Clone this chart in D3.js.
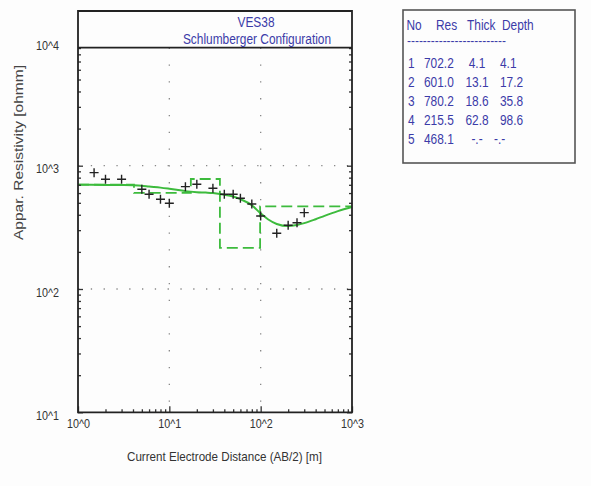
<!DOCTYPE html>
<html>
<head>
<meta charset="utf-8">
<script src="https://cdn.jsdelivr.net/npm/d3@7"></script>
<style>
  html, body { margin: 0; padding: 0; background: #fdfdfd; }
  svg { display: block; font-family: 'Liberation Sans', Arial, sans-serif; }
</style>
</head>
<body>
<svg id="chart" width="591" height="486"></svg>
<script>
(function () {
  'use strict';

  // ---- Data ----
  // measured sounding (AB/2 in m, apparent resistivity in ohmm)
  const abDist = [1.5, 2, 3, 5, 6, 8, 10, 15, 20, 30, 40, 50, 60, 80, 100, 150, 200, 250, 300];
  const appRes = [878, 776, 776, 644, 586, 534, 496, 676, 707, 656, 586, 586, 544, 489, 391, 283, 329, 345, 416];

  // fitted curve
  const curveX = [1, 2, 3, 4, 5, 6, 8, 10, 12, 15, 20, 25, 30, 40, 50, 60, 80, 100, 120, 150, 200, 250, 300, 400, 500, 700, 1000];
  const curveY = [700, 699, 697, 694, 688, 678, 664, 650, 638, 622, 610, 605, 600, 582, 562, 535, 478, 410, 368, 337, 324, 331, 342, 368, 392, 428, 462];

  // layer model
  const layerNo = [1, 2, 3, 4, 5];
  const layerRes = [702.2, 601.0, 780.2, 215.5, 468.1];
  const layerThick = ['4.1', '13.1', '18.6', '62.8', '-.-'];
  const layerDepth = ['4.1', '17.2', '35.8', '98.6', '-.-'];
  const depthBounds = [1, 4.1, 17.2, 35.8, 98.6, 1000];

  const xTicks = [1, 10, 100, 1000];
  const yTicks = [10, 100, 1000, 10000];

  const GREEN = '#3dbb3d';
  const BLUE = '#3b3ba8';
  const AXIS = '#333';

  const svg = d3.select('#chart');

  const x = d3.scaleLog().domain([1, 1000]).range([78, 352]);
  const y = d3.scaleLog().domain([10, 10000]).range([412.3, 42.4]);

  const plotTop = 47.7;

  function minorTicks(dom) {
    const out = [];
    for (let p = Math.log10(dom[0]); p < Math.log10(dom[1]); p++) {
      for (let m = 2; m <= 9; m++) out.push(m * Math.pow(10, p));
    }
    return out;
  }
  const sup = function (d) { return '10^' + Math.round(Math.log10(d)); };

  // squeeze text horizontally, the reference font is narrow
  function narrow(sel, k) {
    sel.each(function () {
      const w = this.getComputedTextLength();
      d3.select(this).attr('textLength', w * k).attr('lengthAdjust', 'spacingAndGlyphs');
    });
  }

  // ---- Grid (dotted) ----
  const grid = svg.append('g');
  grid.selectAll('line.gx')
    .data([10, 100])
    .enter().append('line')
    .attr('x1', d => x(d)).attr('x2', d => x(d))
    .attr('y1', plotTop).attr('y2', y(10))
    .attr('stroke', '#888').attr('stroke-width', 1.3)
    .attr('stroke-dasharray', '1.3,15.5');
  grid.selectAll('line.gy')
    .data([100, 1000])
    .enter().append('line')
    .attr('x1', x(1)).attr('x2', x(1000))
    .attr('y1', d => y(d)).attr('y2', d => y(d))
    .attr('stroke', '#888').attr('stroke-width', 1.3)
    .attr('stroke-dasharray', '1.3,11.5');

  // ---- Layer model (dashed step) ----
  const stepData = depthBounds.map(function (d, i) {
    return { x: d, y: layerRes[Math.min(i, layerRes.length - 1)] };
  });
  svg.append('path')
    .datum(stepData)
    .attr('fill', 'none')
    .attr('stroke', GREEN)
    .attr('stroke-width', 1.8)
    .attr('stroke-dasharray', '11,5')
    .attr('d', d3.line().x(d => x(d.x)).y(d => y(d.y)).curve(d3.curveStepAfter));

  // ---- Fitted curve ----
  svg.append('path')
    .datum(curveX.map((d, i) => [d, curveY[i]]))
    .attr('fill', 'none')
    .attr('stroke', GREEN)
    .attr('stroke-width', 2)
    .attr('d', d3.line().x(d => x(d[0])).y(d => y(d[1])).curve(d3.curveMonotoneX));

  // ---- Measured points (crosses) ----
  const arm = 4.5;
  svg.append('g')
    .selectAll('path')
    .data(abDist.map((d, i) => [d, appRes[i]]))
    .enter().append('path')
    .attr('d', function (d) {
      const cx = x(d[0]), cy = y(d[1]);
      return 'M' + (cx - arm) + ',' + cy + 'H' + (cx + arm) +
        'M' + cx + ',' + (cy - arm) + 'V' + (cy + arm);
    })
    .attr('stroke', '#222')
    .attr('stroke-width', 1.4);

  // ---- Axes ----
  function styleAxis(g) {
    g.select('.domain').remove();
    g.selectAll('line').attr('stroke', AXIS).attr('stroke-width', 1.3);
    g.selectAll('text').attr('fill', '#333').attr('font-size', 12.5);
  }

  // bottom
  const bottomMajor = svg.append('g').attr('transform', 'translate(0,' + y(10) + ')')
    .call(d3.axisBottom(x).tickValues(xTicks).tickFormat(sup).tickSizeInner(-6).tickSizeOuter(0).tickPadding(7))
    .call(styleAxis);
  narrow(bottomMajor.selectAll('text'), 0.86);
  svg.append('g').attr('transform', 'translate(0,' + y(10) + ')')
    .call(d3.axisBottom(x).tickValues(minorTicks([1, 1000])).tickFormat('').tickSizeInner(-3).tickSizeOuter(0))
    .call(styleAxis);

  // left
  const leftMajor = svg.append('g').attr('transform', 'translate(' + x(1) + ',0)')
    .call(d3.axisLeft(y).tickValues(yTicks).tickFormat(sup).tickSizeInner(-5).tickSizeOuter(0).tickPadding(19))
    .call(styleAxis);
  leftMajor.selectAll('text').attr('dy', '0.58em');
  narrow(leftMajor.selectAll('text'), 0.86);
  svg.append('g').attr('transform', 'translate(' + x(1) + ',0)')
    .call(d3.axisLeft(y).tickValues(minorTicks([10, 10000])).tickFormat('').tickSizeInner(-3).tickSizeOuter(0))
    .call(styleAxis);

  // right
  svg.append('g').attr('transform', 'translate(' + x(1000) + ',0)')
    .call(d3.axisRight(y).tickValues(yTicks).tickFormat('').tickSizeInner(-5).tickSizeOuter(0))
    .call(styleAxis);
  svg.append('g').attr('transform', 'translate(' + x(1000) + ',0)')
    .call(d3.axisRight(y).tickValues(minorTicks([10, 10000])).tickFormat('').tickSizeInner(-3).tickSizeOuter(0))
    .call(styleAxis);

  // ---- Title box (covers top decade) ----
  svg.append('rect')
    .attr('x', x(1)).attr('y', 11)
    .attr('width', x(1000) - x(1)).attr('height', plotTop - 11)
    .attr('fill', '#fdfdfd');

  // frame
  svg.append('path')
    .attr('d', 'M' + x(1) + ',11V' + y(10) + 'H' + x(1000) + 'V11Z' +
      'M' + x(1) + ',' + plotTop + 'H' + x(1000))
    .attr('fill', 'none')
    .attr('stroke', '#222')
    .attr('stroke-width', 1.8);

  const titles = svg.append('g')
    .attr('text-anchor', 'middle')
    .attr('font-size', 14).attr('fill', BLUE);
  titles.append('text').attr('x', 256).attr('y', 27).text('VES38');
  titles.append('text').attr('x', 257).attr('y', 43.5).text('Schlumberger Configuration');
  narrow(titles.selectAll('text'), 0.85);

  // ---- Axis titles ----
  svg.append('text')
    .attr('x', 224.5).attr('y', 461)
    .attr('text-anchor', 'middle')
    .attr('font-size', 13.5).attr('fill', '#333')
    .attr('textLength', 195).attr('lengthAdjust', 'spacingAndGlyphs')
    .text('Current Electrode Distance (AB/2) [m]');
  svg.append('text')
    .attr('transform', 'translate(23,152.5) rotate(-90)')
    .attr('text-anchor', 'middle')
    .attr('font-size', 13.5).attr('fill', '#444')
    .attr('textLength', 175).attr('lengthAdjust', 'spacingAndGlyphs')
    .text('Appar. Resistivity [ohmm]');

  // ---- Layer table ----
  const table = svg.append('g');
  table.append('rect')
    .attr('x', 403).attr('y', 10)
    .attr('width', 172).attr('height', 153)
    .attr('fill', '#fdfdfd')
    .attr('stroke', '#555').attr('stroke-width', 1.6);

  const txt = table.append('g').attr('font-size', 14.5).attr('fill', BLUE);
  const head = [['No', 406.5], ['Res', 436], ['Thick', 467], ['Depth', 502]];
  txt.selectAll('text.h')
    .data(head)
    .enter().append('text')
    .attr('class', 'h')
    .attr('x', d => d[1]).attr('y', 30)
    .text(d => d[0]);
  txt.append('text')
    .attr('x', 407).attr('y', 45)
    .attr('font-size', 12)
    .attr('textLength', 99).attr('lengthAdjust', 'spacingAndGlyphs')
    .text('-------------------------');

  const rows = txt.selectAll('g.row')
    .data(layerNo)
    .enter().append('g')
    .attr('class', 'row')
    .attr('transform', (d, i) => 'translate(0,' + (68 + i * 19) + ')');
  rows.append('text').attr('x', 408).text(d => d);
  rows.append('text').attr('x', 424).text((d, i) => layerRes[i].toFixed(1));
  rows.append('text').attr('x', 477).attr('text-anchor', 'middle').text((d, i) => layerThick[i]);
  rows.append('text').attr('x', (d, i) => layerDepth[i] === '-.-' ? 494 : 500)
    .text((d, i) => layerDepth[i]);
  narrow(txt.selectAll('text.h'), 0.82);
  narrow(rows.selectAll('text'), 0.82);
})();
</script>
</body>
</html>
